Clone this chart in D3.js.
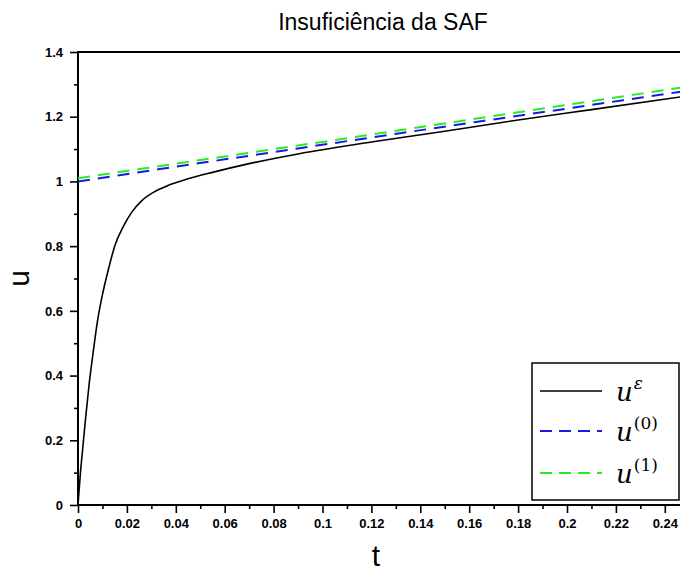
<!DOCTYPE html>
<html>
<head>
<meta charset="utf-8">
<script src="https://cdn.jsdelivr.net/npm/d3@7"></script>
<style>
  body { margin: 0; background: #fff; }
  svg { display: block; }
</style>
</head>
<body>
<div id="chart"></div>
<script>
// values
const tExact = [0, 0.001, 0.002, 0.003, 0.0045, 0.006, 0.008, 0.010, 0.0125, 0.015, 0.0185, 0.022, 0.026, 0.031, 0.037, 0.045, 0.055, 0.07, 0.09, 0.12, 0.15, 0.18, 0.21, 0.25];
const uExact = [0, 0.10, 0.18, 0.26, 0.37, 0.46, 0.57, 0.65, 0.73, 0.80, 0.86, 0.905, 0.94, 0.967, 0.988, 1.008, 1.028, 1.055, 1.085, 1.122, 1.155, 1.19, 1.222, 1.265];
const tOuter = [0, 0.09, 0.25];
const u0 = [1.0, 1.102, 1.281];
const u1 = [1.01, 1.111, 1.294];

const xTicks = [0, 0.02, 0.04, 0.06, 0.08, 0.1, 0.12, 0.14, 0.16, 0.18, 0.2, 0.22, 0.24];
const yTicks = [0, 0.2, 0.4, 0.6, 0.8, 1, 1.2, 1.4];

const width = 680, height = 573;
const margin = { left: 78, top: 52, bottom: 68 };

const svg = d3.select("#chart").append("svg")
  .attr("width", width)
  .attr("height", height)
  .attr("viewBox", [0, 0, width, height]);

const x = d3.scaleLinear().domain([0, 0.25]).range([margin.left, margin.left + 0.25 * 2445]);
const y = d3.scaleLinear().domain([0, 1.4]).range([height - margin.bottom, margin.top]);

// axes
svg.append("g")
  .attr("transform", `translate(0,${y(0)})`)
  .call(d3.axisBottom(x).tickValues(xTicks).tickSize(8).tickPadding(6)
    .tickFormat(d => d3.format("~g")(d)));
svg.append("g")
  .attr("transform", `translate(0,${y(0)})`)
  .call(d3.axisBottom(x).tickValues(d3.range(0.01, 0.25, 0.02)).tickSize(4).tickFormat(""));

svg.append("g")
  .attr("transform", `translate(${x(0)},0)`)
  .call(d3.axisLeft(y).tickValues(yTicks).tickSize(8).tickPadding(7)
    .tickFormat(d => d3.format("~g")(d)));
svg.append("g")
  .attr("transform", `translate(${x(0)},0)`)
  .call(d3.axisLeft(y).tickValues(d3.range(0.1, 1.4, 0.2)).tickSize(4).tickFormat(""));

svg.selectAll(".domain").remove();
svg.selectAll(".tick line").attr("stroke", "#000").attr("stroke-width", 1.6);
svg.selectAll(".tick text")
  .attr("fill", "#000")
  .style("font-family", "'Liberation Sans', Arial, sans-serif")
  .style("font-size", "13px")
  .style("font-weight", "bold");

// frame
svg.append("line")
  .attr("x1", x(0)).attr("x2", width).attr("y1", y(0)).attr("y2", y(0))
  .attr("stroke", "#000").attr("stroke-width", 2);
svg.append("line")
  .attr("x1", x(0)).attr("x2", x(0)).attr("y1", y(0)).attr("y2", y(1.4))
  .attr("stroke", "#000").attr("stroke-width", 2);
svg.append("line")
  .attr("x1", x(0) - 1).attr("x2", width).attr("y1", y(1.4)).attr("y2", y(1.4))
  .attr("stroke", "#000").attr("stroke-width", 2);

// curves
const line = d3.line().x(d => x(d[0])).y(d => y(d[1])).curve(d3.curveMonotoneX);

svg.append("path")
  .datum(d3.zip(tOuter, u1))
  .attr("d", line)
  .attr("fill", "none").attr("stroke", "#22ee22").attr("stroke-width", 2)
  .attr("stroke-dasharray", "12,8");
svg.append("path")
  .datum(d3.zip(tOuter, u0))
  .attr("d", line)
  .attr("fill", "none").attr("stroke", "#1a1adf").attr("stroke-width", 2)
  .attr("stroke-dasharray", "12,8");
svg.append("path")
  .datum(d3.zip(tExact, uExact))
  .attr("d", line)
  .attr("fill", "none").attr("stroke", "#000").attr("stroke-width", 1.6);

// title and axis labels
svg.append("text")
  .attr("x", 383).attr("y", 30)
  .attr("text-anchor", "middle")
  .style("font-family", "'Liberation Sans', Arial, sans-serif")
  .style("font-size", "23px")
  .text("Insuficiência da SAF");

svg.append("text")
  .attr("x", 376).attr("y", 566)
  .attr("text-anchor", "middle")
  .style("font-family", "'Liberation Sans', Arial, sans-serif")
  .style("font-size", "30px")
  .text("t");

svg.append("text")
  .attr("transform", `translate(29,${(y(0) + y(1.4)) / 2}) rotate(-90)`)
  .attr("text-anchor", "middle")
  .style("font-family", "'Liberation Sans', Arial, sans-serif")
  .style("font-size", "30px")
  .text("u");

// legend
const legend = svg.append("g");
legend.append("rect")
  .attr("x", 532).attr("y", 363).attr("width", 147).attr("height", 137)
  .attr("fill", "#fff").attr("stroke", "#000").attr("stroke-width", 1.5);

const items = [
  { color: "#000", dash: null, sup: "ε", supItalic: true },
  { color: "#1a1adf", dash: "12,7", sup: "(0)", supItalic: false },
  { color: "#22ee22", dash: "12,7", sup: "(1)", supItalic: false }
];
const legendY = [391, 431, 473];

items.forEach((it, i) => {
  const ly = legendY[i];
  legend.append("line")
    .attr("x1", 540).attr("x2", 602).attr("y1", ly).attr("y2", ly)
    .attr("stroke", it.color).attr("stroke-width", it.dash ? 2 : 1.4)
    .attr("stroke-dasharray", it.dash);
  const t = legend.append("text")
    .attr("x", 616).attr("y", ly + 10)
    .style("font-family", "'DejaVu Serif', 'Liberation Serif', serif");
  t.append("tspan").style("font-style", "italic").style("font-size", "26px").text("u");
  t.append("tspan")
    .attr("dy", -12)
    .attr("dx", 1)
    .style("font-style", it.supItalic ? "italic" : "normal")
    .style("font-size", "17px")
    .text(it.sup);
});
</script>
</body>
</html>
